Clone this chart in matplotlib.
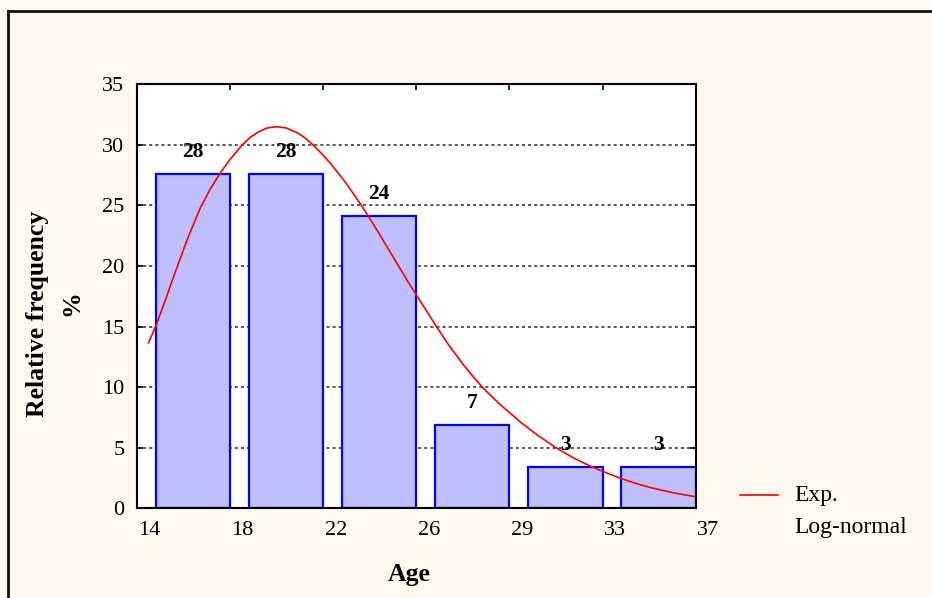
import matplotlib
matplotlib.use("Agg")
import matplotlib.pyplot as plt
from matplotlib.lines import Line2D
from matplotlib.transforms import ScaledTranslation

# Age classes (bin edges) and relative frequencies (%)
age_edges = ["14", "18", "22", "26", "29", "33", "37"]
rel_freq = [27.6, 27.6, 24.1, 6.9, 3.4, 3.4]

# Fitted log-normal curve, x in bin-position units along the age axis
curve_x = [0.12, 0.21, 0.30, 0.42, 0.55, 0.68, 0.79, 0.90, 1.01, 1.13,
           1.22, 1.31, 1.40, 1.50, 1.60, 1.72, 1.80, 1.89, 1.98, 2.08,
           2.24, 2.41, 2.55, 2.70, 2.82, 2.91, 3.00, 3.10, 3.215, 3.35,
           3.50, 3.60, 3.72, 3.90, 4.13, 4.30, 4.51, 4.68, 4.85, 5.00,
           5.18, 5.35, 5.50, 5.75, 6.00]
curve_y = [13.6, 15.2, 17.1, 19.7, 22.4, 24.8, 26.4, 27.75, 28.9, 30.0,
           30.65, 31.1, 31.4, 31.5, 31.4, 31.0, 30.6, 30.0, 29.3, 28.45,
           26.9, 25.0, 23.3, 21.4, 19.85, 18.7, 17.6, 16.4, 15.0, 13.45,
           11.9, 10.95, 9.9, 8.56, 7.04, 6.04, 4.95, 4.19, 3.54, 3.05,
           2.51, 2.07, 1.74, 1.29, 0.95]

y_ticks = [0, 5, 10, 15, 20, 25, 30, 35]

bg = "#FEF9EE"
serif = ["Liberation Serif", "DejaVu Serif"]
plt.rcParams["font.family"] = serif

fig = plt.figure(figsize=(9.32, 5.98), dpi=100, facecolor=bg)
ax = fig.add_axes([0.147, 0.15, 0.5995, 0.709])
ax.set_facecolor("white")

n = len(rel_freq)
ax.set_xlim(0, n)
ax.set_ylim(0, 35)

# dotted horizontal grid
for yv in y_ticks[1:-1]:
    ax.axhline(yv, color="#2a2a2a", lw=1.1, ls=(0, (2, 2)), zorder=1)

# bars occupy the right 80% of each class interval
xpos = [i + 0.2 for i in range(n)]
ax.bar(xpos, rel_freq, width=0.8, align="edge", color="#BFBFFF",
       edgecolor="#0000FF", linewidth=1.6, zorder=2)

for i, v in enumerate(rel_freq):
    ax.annotate(f"{v:.0f}", (i + 0.6, v), xytext=(0, 22),
                textcoords="offset pixels", ha="center", va="center",
                fontsize=15.5, fontweight="bold", zorder=4)

ax.plot(curve_x, curve_y, color="#FF0000", lw=1.2, zorder=3,
        solid_joinstyle="round", solid_capstyle="butt")

# axes, ticks
for s in ax.spines.values():
    s.set_linewidth(1.5)
    s.set_color("black")
    s.set_zorder(5)
ax.set_xticks(range(n + 1))
ax.set_xticklabels(age_edges)
ax.set_yticks(y_ticks)
ax.tick_params(direction="in", length=4, width=1.2, top=True, right=True,
               labelsize=16, colors="black")
ax.tick_params(axis="x", pad=9)
ax.tick_params(axis="y", pad=9)
shift = ScaledTranslation(12.5 / 100, 0, fig.dpi_scale_trans)
for lab in ax.get_xticklabels():
    lab.set_transform(lab.get_transform() + shift)

# axis titles
fig.text(409 / 932, 1 - 575 / 598, "Age", ha="center", va="center",
         fontsize=18.5, fontweight="bold")
fig.text(38 / 932, 1 - 314 / 598, "Relative frequency", rotation=90,
         ha="center", va="center", fontsize=18.5, fontweight="bold")
fig.text(72 / 932, 1 - 303 / 598, "%", rotation=90,
         ha="center", va="center", fontsize=18.5, fontweight="bold")

# legend
fig.add_artist(Line2D([740 / 932, 778 / 932], [1 - 495 / 598, 1 - 495 / 598],
                      color="#FF0000", lw=1.2, transform=fig.transFigure))
fig.text(794 / 932, 1 - 495 / 598, "Exp.", ha="left", va="center", fontsize=17)
fig.text(794 / 932, 1 - 527 / 598, "Log-normal", ha="left", va="center",
         fontsize=17)

# outer frame (top and left edges)
fig.add_artist(Line2D([7.5 / 932, 1.0], [1 - 11 / 598, 1 - 11 / 598],
                      color="#111111", lw=2, transform=fig.transFigure))
fig.add_artist(Line2D([7.5 / 932, 7.5 / 932], [1 - 11 / 598, 0.0],
                      color="#111111", lw=2, transform=fig.transFigure))

fig.savefig("out.png", dpi=100, facecolor=bg)
